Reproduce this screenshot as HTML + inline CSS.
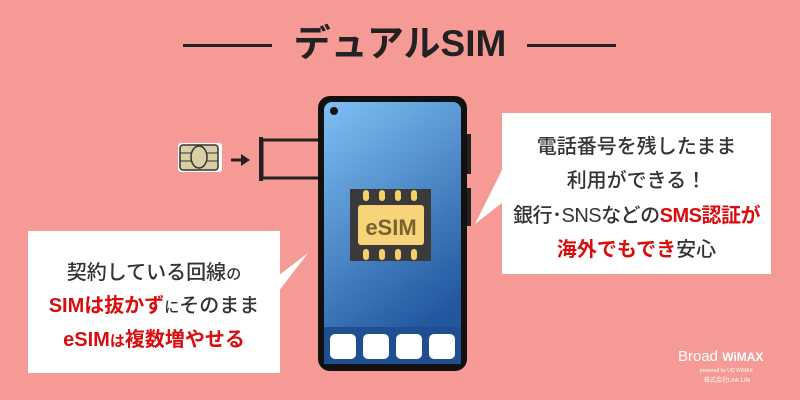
<!DOCTYPE html>
<html><head><meta charset="utf-8"><style>
body{margin:0;width:800px;height:400px;overflow:hidden;background:#f59a94;font-family:"Liberation Sans","Noto Sans CJK JP",sans-serif;position:relative}
.a{position:absolute}
.t{position:absolute;left:0;width:100%;text-align:center;white-space:nowrap;color:#333;font-weight:500}
.r{color:#d80e0e;font-weight:bold}
</style></head><body>
<div class="a" style="left:183px;top:44px;width:89px;height:3px;background:#222"></div>
<div class="a" style="left:527px;top:44px;width:89px;height:3px;background:#222"></div>
<div class="t" style="top:23px;font-size:37px;color:#222;line-height:42px;font-weight:bold">デュアルSIM</div>

<svg class="a" style="left:0;top:0" width="800" height="400">
<rect x="178" y="143" width="44" height="29" rx="3" fill="#fff"/>
<rect x="180" y="145" width="38" height="25" rx="3" fill="#d8cfa4" stroke="#333" stroke-width="1.5"/>
<ellipse cx="199" cy="157" rx="8" ry="11" fill="#d8cfa4" stroke="#333" stroke-width="1.5"/>
<line x1="180" y1="153" x2="191" y2="153" stroke="#333"/><line x1="180" y1="161" x2="191" y2="161" stroke="#333"/>
<line x1="207" y1="153" x2="218" y2="153" stroke="#333"/><line x1="207" y1="161" x2="218" y2="161" stroke="#333"/>
<line x1="231" y1="160" x2="243" y2="160" stroke="#222" stroke-width="3"/>
<polygon points="241,154 250,160 241,166" fill="#222"/>
<rect x="259" y="137" width="4" height="44" fill="#222"/>
<rect x="262" y="140" width="58" height="38" fill="none" stroke="#222" stroke-width="3"/>
<rect x="467" y="134" width="4" height="40" fill="#222"/>
<rect x="467" y="188" width="4" height="38" fill="#222"/>
<defs><linearGradient id="g" x1="0" y1="0" x2="0.4" y2="1"><stop offset="0" stop-color="#7ec0f5"/><stop offset="1" stop-color="#22579e"/></linearGradient></defs>
<rect x="318" y="96" width="149" height="275" rx="12" fill="#111"/>
<rect x="324" y="102" width="137" height="262" rx="8" fill="url(#g)"/>
<rect x="324" y="327" width="137" height="37" fill="#1f4f90"/>
<circle cx="334" cy="111" r="4" fill="#111"/>
<rect x="330" y="334" width="26" height="25" rx="5" fill="#fff"/>
<rect x="363" y="334" width="26" height="25" rx="5" fill="#fff"/>
<rect x="396" y="334" width="26" height="25" rx="5" fill="#fff"/>
<rect x="429" y="334" width="26" height="25" rx="5" fill="#fff"/>
<rect x="350" y="189" width="81" height="72" fill="#3a3a3a"/>
<g fill="#f4cf6a"><rect x="363" y="190" width="6" height="11" rx="3"/><rect x="379" y="190" width="6" height="11" rx="3"/><rect x="395" y="190" width="6" height="11" rx="3"/><rect x="411" y="190" width="6" height="11" rx="3"/>
<rect x="363" y="249" width="6" height="11" rx="3"/><rect x="379" y="249" width="6" height="11" rx="3"/><rect x="395" y="249" width="6" height="11" rx="3"/><rect x="411" y="249" width="6" height="11" rx="3"/></g>
<rect x="358" y="205" width="66" height="40" rx="3" fill="#f7d47a"/>
<text x="391" y="235" text-anchor="middle" font-size="22" font-weight="bold" fill="#7a6330" font-family="Liberation Sans">eSIM</text>
<polygon points="270,282 308,253 272,300" fill="#fff"/>
<polygon points="512,150 475,224 512,195" fill="#fff"/>
<rect x="28" y="231" width="252" height="142" fill="#fff"/>
<rect x="502" y="113" width="269" height="161" fill="#fff"/>
</svg>

<div class="a" style="left:28px;top:231px;width:252px;height:142px">
<div class="t" style="top:25px;font-size:20px">契約している回線<span style="font-size:15px">の</span></div>
<div class="t" style="top:58px;font-size:20px"><span class="r">SIMは抜かず</span><span style="font-size:15px">に</span>そのまま</div>
<div class="t" style="top:92px;font-size:20px"><span class="r">eSIM<span style="font-size:15px">は</span>複数増やせる</span></div>
</div>
<div class="a" style="left:502px;top:113px;width:269px;height:161px">
<div class="t" style="top:17px;font-size:20px">電話番号を残したまま</div>
<div class="t" style="top:51px;font-size:20px">利用ができる！</div>
<div class="t" style="top:86px;font-size:20px;letter-spacing:-0.5px">銀行･SNSなどの<span class="r">SMS認証が</span></div>
<div class="t" style="top:120px;font-size:20px"><span class="r">海外でもでき</span>安心</div>
</div>

<div class="a" style="left:678px;top:348px;color:#fff;font-size:15px;white-space:nowrap">Broad <b style="font-size:12px">WiMAX</b></div>
<div class="a" style="left:700px;top:368px;color:#fff;font-size:5px;white-space:nowrap">powered by UQ WiMAX</div>
<div class="a" style="left:704px;top:375px;color:#fff;font-size:6px;white-space:nowrap">株式会社Link Life</div>
</body></html>
